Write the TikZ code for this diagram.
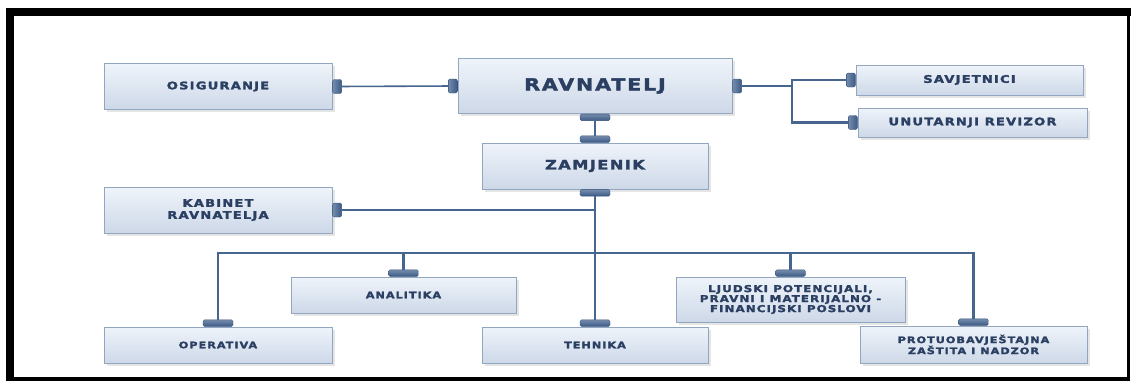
\documentclass[tikz,border=0pt]{standalone}
\usepackage{fontspec}
\newfontfamily\lblfont[LetterSpace=11, FakeStretch=1.25, FakeBold=2.2]{DejaVu Sans}
\usetikzlibrary{shadows}
\definecolor{boxtop}{HTML}{EFF4FA}
\definecolor{boxbot}{HTML}{CDD8E8}
\definecolor{boxedge}{HTML}{93A6C0}
\definecolor{txt}{HTML}{2A3F62}
\definecolor{linec}{HTML}{46658F}
\definecolor{capc}{HTML}{3A5A86}
\tikzset{
  box/.style={rectangle, draw=boxedge, line width=0.9pt, top color=boxtop, bottom color=boxbot,
    inner sep=0pt, align=center, text=txt,
    drop shadow={opacity=0.2, shadow xshift=2.5pt, shadow yshift=-2.5pt}},
  fa/.style={font=\lblfont\bfseries\fontsize{10.5}{12}\selectfont},
  fb/.style={font=\lblfont\bfseries\fontsize{9}{10.5}\selectfont},
  hcap/.style={rectangle, rounded corners=2pt, minimum width=9pt, minimum height=14pt, inner sep=0pt,
    left color=capc!70!white, right color=capc, draw=capc!90!black, line width=0.4pt},
  vcap/.style={rectangle, rounded corners=1.5pt, minimum width=30pt, minimum height=6.5pt, inner sep=0pt,
    top color=capc!70!white, bottom color=capc, draw=capc!90!black, line width=0.4pt},
  conn/.style={draw=linec, line width=2.3pt},
  thin conn/.style={draw=linec, line width=1.6pt}
}
\begin{document}
\begin{tikzpicture}[x=1pt, y=-1pt]
\useasboundingbox (0,0) rectangle (1131,383);
% frame
\fill[white] (0,0) rectangle (1131,383);
\fill[black] (6,8) rectangle (1131,16);
\fill[black] (6,8) rectangle (14,381);
\fill[black] (1127,8) rectangle (1130,381);
\fill[black] (6,377) rectangle (1130,381);
\coordinate (split) at (792,86);
\coordinate (bus) at (595,253);
% boxes
\node[box, fa, minimum width=228pt, minimum height=46pt] (osig) at (218,86.5) {OSIGURANJE};
\node[box, minimum width=274pt, minimum height=55pt, font=\lblfont\bfseries\fontsize{16.5}{20}\selectfont] (ravn) at (595,86) {RAVNATELJ};
\node[box, minimum width=226pt, minimum height=46pt, font=\lblfont\bfseries\fontsize{13}{15}\selectfont] (zam) at (595,166) {ZAMJENIK};
\node[box, fa, minimum width=227pt, minimum height=30pt] (sav) at (969.5,80) {SAVJETNICI};
\node[box, fa, minimum width=229pt, minimum height=29pt] (unut) at (972.5,122.5) {UNUTARNJI REVIZOR};
\node[box, fa, minimum width=228pt, minimum height=46pt] (kab) at (218,210) {KABINET\\RAVNATELJA};
\node[box, fb, minimum width=225pt, minimum height=36pt] (anal) at (403.5,295) {ANALITIKA};
\node[box, fb, minimum width=228pt, minimum height=36pt] (oper) at (218,345) {OPERATIVA};
\node[box, fb, minimum width=226pt, minimum height=36pt] (teh) at (595,345) {TEHNIKA};
\node[box, minimum width=229pt, minimum height=45pt, font=\lblfont\bfseries\fontsize{9.5}{10}\selectfont] (ljud) at (790.5,299.5) {LJUDSKI POTENCIJALI,\\PRAVNI I MATERIJALNO -\\FINANCIJSKI POSLOVI};
\node[box, minimum width=227pt, minimum height=37pt, font=\lblfont\bfseries\fontsize{9}{11}\selectfont] (prot) at (973.5,344.5) {PROTUOBAVJEŠTAJNA\\ZAŠTITA I NADZOR};
% caps
\node[hcap, anchor=west] (cOsig) at (osig.east) {};
\node[hcap, anchor=east] (cRavW) at (ravn.west) {};
\node[hcap, anchor=west] (cRavE) at (ravn.east) {};
\node[hcap, anchor=east] (cSav) at (sav.west) {};
\node[hcap, anchor=east] (cUnut) at (unut.west) {};
\node[hcap, anchor=west] (cKab) at (kab.east) {};
\node[vcap, anchor=north] (cRavS) at (ravn.south) {};
\node[vcap, anchor=south] (cZamN) at (zam.north) {};
\node[vcap, anchor=north] (cZamS) at (zam.south) {};
\node[vcap, anchor=south] (cTeh) at (teh.north) {};
\node[vcap, anchor=south] (cOper) at (oper.north) {};
\node[vcap, anchor=south] (cAnal) at (anal.north) {};
\node[vcap, anchor=south] (cLjud) at (ljud.north) {};
\node[vcap, anchor=south] (cProt) at (prot.north) {};
% connectors
\draw[thin conn] (cOsig) -- (cRavW);
\draw[conn] (cRavE) -- (split);
\draw[conn] (cSav) -| (split) |- (cUnut);
\draw[conn] (cRavS) -- (cZamN);
\draw[conn] (cZamS) -- (cTeh);
\draw[conn] (cKab) -- (cKab -| cZamS);
\draw[conn] (cOper) |- (bus) -| (cProt);
\draw[conn] (cAnal) -- (cAnal |- bus);
\draw[conn] (cLjud) -- (cLjud |- bus);
\end{tikzpicture}
\end{document}
